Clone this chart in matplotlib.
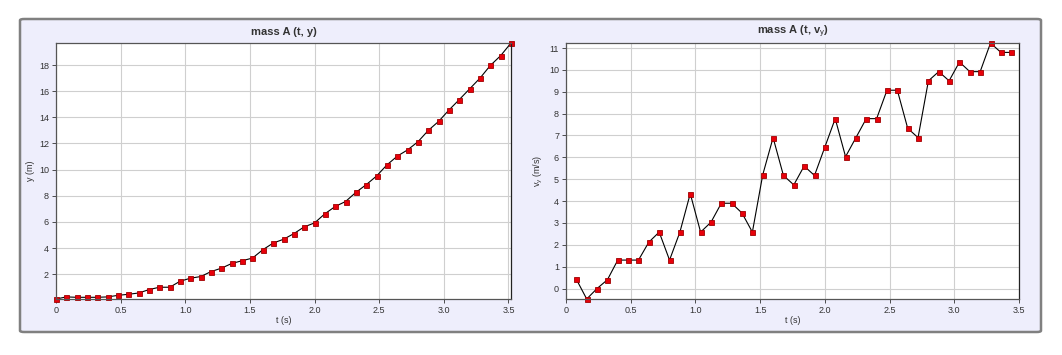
import numpy as np
import matplotlib
matplotlib.use('Agg')
import matplotlib.pyplot as plt
from matplotlib.patches import FancyBboxPatch
from matplotlib.ticker import FuncFormatter

plt.rcParams['font.family'] = ['Liberation Sans', 'DejaVu Sans']
plt.rcParams['mathtext.fontset'] = 'custom'
plt.rcParams['mathtext.rm'] = 'Liberation Sans'
plt.rcParams['mathtext.it'] = 'Liberation Sans'

# data (dt = 0.08 s)
dt = 0.08
y_pos = [0.10, 0.26, 0.23, 0.23, 0.23, 0.26, 0.38, 0.46, 0.56, 0.82,
         1.00, 1.00, 1.46, 1.69, 1.82, 2.20, 2.46, 2.82, 3.03, 3.23,
         3.87, 4.38, 4.67, 5.10, 5.62, 5.92, 6.62, 7.18, 7.56, 8.26,
         8.85, 9.51, 10.36, 11.03, 11.51, 12.13, 13.00, 13.69, 14.56, 15.36,
         16.18, 17.00, 17.97, 18.72, 19.69]
v_y = [0.42, -0.48, 0.0, 0.40, 1.30, 1.30, 1.30, 2.12, 2.58, 1.30,
       2.58, 4.34, 2.58, 3.03, 3.90, 3.90, 3.45, 2.58, 5.20, 6.90,
       5.17, 4.74, 5.60, 5.17, 6.47, 7.77, 6.03, 6.90, 7.77, 7.77,
       9.07, 9.07, 7.33, 6.90, 9.50, 9.92, 9.50, 10.36, 9.92, 9.92,
       11.23, 10.80, 10.80]
t_pos = [i * dt for i in range(len(y_pos))]
t_vel = [(i + 1) * dt for i in range(len(v_y))]

W, H = 1062, 355
fig = plt.figure(figsize=(W / 100, H / 100), dpi=100)

panel = FancyBboxPatch((20 / W, 1 - 332 / H), 1021 / W, 313 / H,
                       boxstyle='round,pad=0,rounding_size=0.004',
                       transform=fig.transFigure, facecolor='#eeeefc',
                       edgecolor='#808080', linewidth=1.8, zorder=-5)
fig.patches.append(panel)

ax1 = fig.add_axes([56 / W, 1 - 299 / H, 455 / W, 256 / H])
ax2 = fig.add_axes([566 / W, 1 - 299 / H, 453 / W, 256 / H])


def fmt_x(v, pos):
    return '0' if abs(v) < 1e-9 else '%.1f' % v


def style(ax, title, ylabel):
    ax.set_facecolor('white')
    ax.grid(True, color='#cfcfcf', linewidth=0.8)
    ax.set_axisbelow(True)
    for s in ax.spines.values():
        s.set_color('#555555')
        s.set_linewidth(0.9)
    ax.spines['right'].set_color('#222222')
    ax.tick_params(labelsize=6.5, colors='#333333', length=3, width=0.6,
                   pad=2)
    ax.set_title(title, fontsize=8, fontweight='bold', color='#333333', pad=6)
    ax.set_xlabel('t (s)', fontsize=6.5, color='#333333', labelpad=1)
    ax.set_ylabel(ylabel, fontsize=6.5, color='#333333', labelpad=3)
    ax.set_xticks(np.arange(0, 3.51, 0.5))
    ax.xaxis.set_major_formatter(FuncFormatter(fmt_x))


mk = dict(color='black', linewidth=0.8, marker='s', markersize=3.6,
          markerfacecolor='#e8000a', markeredgecolor='#a00000',
          markeredgewidth=0.6, clip_on=False)

ax1.plot(t_pos, y_pos, **mk)
ax1.set_xlim(min(t_pos), max(t_pos))
ax1.set_ylim(min(y_pos), max(y_pos))
ax1.set_yticks(range(2, 19, 2))
style(ax1, 'mass A (t, y)', 'y (m)')

ax2.plot(t_vel, v_y, **mk)
ax2.set_xlim(0, 3.5)
ax2.set_ylim(min(v_y), max(v_y))
ax2.set_yticks(range(0, 12))
style(ax2, r'mass A (t, v$_\mathrm{y}$)', r'v$_\mathrm{y}$ (m/s)')

fig.savefig('out.png', dpi=100)
